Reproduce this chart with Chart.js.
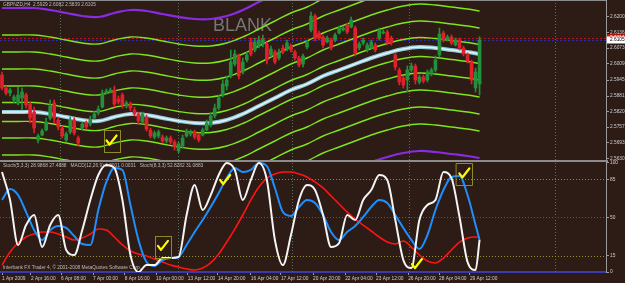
<!DOCTYPE html>
<html>
<head>
<meta charset="utf-8">
<title>GBPNZD,H4</title>
<script src="https://cdn.jsdelivr.net/npm/chart.js@4.4.0/dist/chart.umd.min.js"></script>
<style>
  html, body { margin: 0; padding: 0; background: #2d1b16; }
  #wrap { position: relative; width: 625px; height: 283px; background: #2d1b16; overflow: hidden; }
  canvas { position: absolute; left: 0; }
  #main { top: 0; }
  #osc { top: 160px; }
</style>
</head>
<body>
<div id="wrap">
  <canvas id="main" width="625" height="160"></canvas>
  <canvas id="osc" width="625" height="123"></canvas>
</div>
<script>
'use strict';

// ---- values ----
const tickLabels = ['1 Apr 2009', '2 Apr 16:00', '6 Apr 08:00', '7 Apr 00:00', '8 Apr 16:00', '10 Apr 00:00',
  '13 Apr 12:00', '14 Apr 20:00', '16 Apr 04:00', '17 Apr 12:00', '20 Apr 20:00', '22 Apr 04:00',
  '23 Apr 12:00', '26 Apr 20:00', '28 Apr 04:00', '29 Apr 12:00'];
const tickBars = [0, 7.2, 14.7, 22.7, 30.6, 38.4, 46.3, 53.8, 62, 69.5, 77.5, 85.5, 93.2, 101.2, 108.9, 116.6];
const gridBars = [14.5, 43.8, 72.2, 101.4, 137.8];

const priceTicks = [2.6200, 2.6136, 2.6073, 2.6009, 2.5945, 2.5881, 2.5820, 2.5757, 2.5693, 2.5630];
const oscTicks = [0, 15, 50, 85, 100];
const oscLevels = [15, 50, 85];

const openPrices = [
  2.5965, 2.5913, 2.5893, 2.5865, 2.5853, 2.5873, 2.5885, 2.5849, 2.5817, 2.5705,
  2.5725, 2.5745, 2.5793, 2.5853, 2.5785, 2.5753, 2.5705, 2.5737, 2.5785, 2.5713,
  2.5753, 2.5773, 2.5769, 2.5793, 2.5813, 2.5837, 2.5893, 2.5897, 2.5905, 2.5869,
  2.5885, 2.5841, 2.5849, 2.5825, 2.5809, 2.5777, 2.5797, 2.5745, 2.5717, 2.5721,
  2.5717, 2.5701, 2.5713, 2.5697, 2.5661, 2.5681, 2.5721, 2.5729, 2.5737, 2.5725,
  2.5725, 2.5745, 2.5765, 2.5801, 2.5833, 2.5885, 2.5921, 2.5961, 2.6009, 2.6041,
  2.5977, 2.6025, 2.6097, 2.6065, 2.6081, 2.6089, 2.6089, 2.6045, 2.6057, 2.6033,
  2.6073, 2.6069, 2.6081, 2.6057, 2.6033, 2.6009, 2.6077, 2.6145, 2.6201, 2.6133,
  2.6117, 2.6097, 2.6105, 2.6105, 2.6133, 2.6145, 2.6165, 2.6157, 2.6153, 2.6073,
  2.6093, 2.6065, 2.6073, 2.6085, 2.6113, 2.6133, 2.6137, 2.6113, 2.6045, 2.5985,
  2.5953, 2.5945, 2.5985, 2.6001, 2.5937, 2.5957, 2.5945, 2.5969, 2.5985, 2.6045,
  2.6133, 2.6105, 2.6117, 2.6085, 2.6105, 2.6073, 2.6045, 2.6017, 2.5913, 2.5929
];
const highPrices = [
  2.5977, 2.5921, 2.5913, 2.5885, 2.5917, 2.5913, 2.5893, 2.5857, 2.5837, 2.5729,
  2.5749, 2.5793, 2.5865, 2.5865, 2.5793, 2.5761, 2.5737, 2.5797, 2.5793, 2.5721,
  2.5777, 2.5781, 2.5801, 2.5821, 2.5841, 2.5905, 2.5909, 2.5913, 2.5921, 2.5881,
  2.5893, 2.5861, 2.5857, 2.5837, 2.5817, 2.5817, 2.5805, 2.5753, 2.5741, 2.5745,
  2.5725, 2.5721, 2.5721, 2.5705, 2.5697, 2.5725, 2.5749, 2.5745, 2.5745, 2.5733,
  2.5753, 2.5785, 2.5813, 2.5849, 2.5885, 2.5945, 2.5961, 2.6065, 2.6065, 2.6049,
  2.6033, 2.6057, 2.6113, 2.6113, 2.6121, 2.6125, 2.6097, 2.6081, 2.6065, 2.6069,
  2.6085, 2.6105, 2.6089, 2.6065, 2.6041, 2.6049, 2.6105, 2.6217, 2.6209, 2.6141,
  2.6125, 2.6121, 2.6113, 2.6133, 2.6161, 2.6161, 2.6173, 2.6197, 2.6161, 2.6097,
  2.6113, 2.6093, 2.6105, 2.6093, 2.6153, 2.6145, 2.6145, 2.6121, 2.6053, 2.5993,
  2.5961, 2.6001, 2.6013, 2.6009, 2.5965, 2.5965, 2.5985, 2.5993, 2.6041, 2.6153,
  2.6141, 2.6125, 2.6125, 2.6113, 2.6113, 2.6081, 2.6053, 2.6025, 2.5993, 2.6118
];
const lowPrices = [
  2.5905, 2.5885, 2.5881, 2.5853, 2.5845, 2.5825, 2.5833, 2.5773, 2.5733, 2.5693,
  2.5721, 2.5741, 2.5785, 2.5773, 2.5745, 2.5713, 2.5697, 2.5729, 2.5725, 2.5681,
  2.5745, 2.5749, 2.5761, 2.5789, 2.5805, 2.5833, 2.5889, 2.5893, 2.5837, 2.5849,
  2.5833, 2.5833, 2.5821, 2.5801, 2.5769, 2.5769, 2.5741, 2.5713, 2.5709, 2.5713,
  2.5693, 2.5693, 2.5689, 2.5665, 2.5653, 2.5673, 2.5717, 2.5721, 2.5709, 2.5697,
  2.5721, 2.5741, 2.5757, 2.5793, 2.5825, 2.5877, 2.5905, 2.5953, 2.6001, 2.5949,
  2.5969, 2.6017, 2.6041, 2.6057, 2.6073, 2.6077, 2.6009, 2.6037, 2.6009, 2.6025,
  2.6049, 2.6061, 2.6057, 2.6025, 2.5997, 2.5997, 2.6069, 2.6137, 2.6101, 2.6105,
  2.6073, 2.6093, 2.6065, 2.6097, 2.6129, 2.6141, 2.6129, 2.6153, 2.6041, 2.6065,
  2.6085, 2.6057, 2.6069, 2.6057, 2.6105, 2.6129, 2.6085, 2.6085, 2.5985, 2.5925,
  2.5913, 2.5897, 2.5977, 2.5929, 2.5929, 2.5933, 2.5937, 2.5961, 2.5977, 2.6037,
  2.6097, 2.6101, 2.6085, 2.6081, 2.6065, 2.6041, 2.6013, 2.5929, 2.5897, 2.5885
];
const closePrices = [
  2.5913, 2.5893, 2.5905, 2.5877, 2.5885, 2.5897, 2.5845, 2.5793, 2.5753, 2.5721,
  2.5741, 2.5777, 2.5841, 2.5793, 2.5757, 2.5721, 2.5729, 2.5785, 2.5733, 2.5693,
  2.5769, 2.5757, 2.5789, 2.5809, 2.5829, 2.5893, 2.5901, 2.5905, 2.5849, 2.5857,
  2.5845, 2.5853, 2.5833, 2.5809, 2.5781, 2.5809, 2.5749, 2.5721, 2.5733, 2.5737,
  2.5701, 2.5713, 2.5697, 2.5677, 2.5689, 2.5713, 2.5741, 2.5737, 2.5717, 2.5705,
  2.5745, 2.5773, 2.5801, 2.5833, 2.5873, 2.5929, 2.5945, 2.6017, 2.6049, 2.5961,
  2.6017, 2.6045, 2.6049, 2.6097, 2.6105, 2.6109, 2.6025, 2.6069, 2.6017, 2.6057,
  2.6057, 2.6093, 2.6065, 2.6033, 2.6005, 2.6041, 2.6097, 2.6201, 2.6113, 2.6113,
  2.6085, 2.6113, 2.6073, 2.6125, 2.6153, 2.6153, 2.6137, 2.6185, 2.6053, 2.6089,
  2.6105, 2.6085, 2.6097, 2.6065, 2.6145, 2.6137, 2.6093, 2.6093, 2.5997, 2.5937,
  2.5925, 2.5985, 2.6001, 2.5945, 2.5957, 2.5941, 2.5977, 2.5985, 2.6025, 2.6129,
  2.6105, 2.6117, 2.6093, 2.6105, 2.6073, 2.6049, 2.6021, 2.5945, 2.5977, 2.6105
];

// moving average (centre of the envelopes)
const maBars = [0, 4, 8, 12, 16, 20, 24, 28, 32, 36, 40, 44, 48, 52, 56, 60, 64, 68, 72, 76,
  80, 84, 88, 92, 96, 100, 104, 108, 112, 116, 119];
const maPrices = [2.5817, 2.5817, 2.5817, 2.5809, 2.5797, 2.5785, 2.5781, 2.5797, 2.5809, 2.5805,
  2.5793, 2.5781, 2.5773, 2.5773, 2.5785, 2.5809, 2.5841, 2.5873, 2.5905, 2.5929,
  2.5961, 2.5985, 2.6009, 2.6033, 2.6053, 2.6069, 2.6077, 2.6073, 2.6065, 2.6057, 2.6049];
const envelopeOffsets = [0.0038, 0.0104, 0.0172, 0.0240, 0.0308];
const outerOffset = 0.0416;

const bidPrice = 2.6105;
const askPrice = 2.6114;

// stochastic panel
const oscBars = [0, 2, 4, 6, 8, 10, 12, 14, 16, 18, 20, 22, 24, 26, 28, 30, 32, 34, 36, 38,
  40, 42, 44, 46, 48, 50, 52, 54, 56, 58, 60, 62, 64, 66, 68, 70, 72, 74, 76, 78,
  80, 82, 84, 86, 88, 90, 92, 94, 96, 98, 100, 102, 104, 106, 108, 110, 112, 114, 116, 118, 119];
const stochMain = [91.7, 66.1, 24.8, 43.1, 52.3, 22.9, 43.1, 52.3, 20.2, 15.6,
  38.5, 66.1, 89.0, 98.2, 95.4, 66.1, 15.6, 0, 6.4, 6.4,
  12.8, 12.8, 13.8, 52.3, 79.8, 56.9, 70.6, 89.0, 100, 93.6,
  66.1, 84.4, 100, 84.4, 29.4, 6.4, 33.9, 66.1, 79.8, 75.2,
  52.3, 22.9, 26.6, 52.3, 47.7, 66.1, 75.2, 89.0, 84.4, 47.7,
  11.0, 3.7, 47.7, 61.5, 66.1, 91.7, 86.2, 50.5, 9.2, 1.8, 29.4];
const stochSignal = [66.1, 76.1, 70.6, 55.0, 38.5, 29.4, 38.5, 42.2, 40.4, 33.0,
  25.7, 24.8, 56.9, 82.6, 95.4, 93.6, 61.5, 29.4, 9.2, 5.5,
  11.0, 12.8, 13.8, 24.8, 36.7, 47.7, 59.6, 72.5, 86.2, 95.4,
  91.7, 93.6, 100, 97.2, 77.1, 55.0, 51.4, 59.6, 66.1, 63.3,
  52.3, 36.7, 29.4, 36.7, 42.2, 50.5, 59.6, 66.1, 63.3, 52.3,
  40.4, 29.4, 21.1, 33.9, 56.9, 75.2, 87.2, 88.1, 70.6, 43.1, 29.4];
const stochSlow = [6.4, 18.3, 26.6, 32.1, 34.9, 36.7, 36.7, 34.9, 32.1, 29.4,
  31.2, 34.9, 39.4, 38.5, 32.1, 24.8, 19.3, 16.5, 14.7, 11.9,
  9.2, 6.4, 4.6, 2.8, 1.8, 3.7, 8.3, 16.5, 27.5, 39.4,
  52.3, 66.1, 78.0, 86.2, 89.9, 91.7, 91.7, 89.9, 87.2, 82.6,
  77.1, 69.7, 62.4, 55.0, 48.6, 43.1, 37.6, 32.1, 27.5, 25.7,
  28.4, 22.9, 15.6, 10.1, 8.3, 12.8, 20.2, 27.5, 31.2, 32.1, 32.1];

const checkMarks = [
  { panel: 'main', bar: 27.3, value: 2.5703, boxed: true },
  { panel: 'osc', bar: 40.1, value: 23.9, boxed: true },
  { panel: 'osc', bar: 55.6, value: 84.4, boxed: false },
  { panel: 'osc', bar: 103.4, value: 7.3, boxed: false },
  { panel: 'osc', bar: 115.2, value: 90.4, boxed: true }
];

// ---- styles ----
const BULL = '#23903c';
const BEAR = '#e0202a';
const ENVELOPE = '#7ee41e';
const OUTER = '#8a2be2';
const GRID = '#55705c';
const AXIS = '#9a9a9a';
const LABEL = '#cfcfcf';
const SMALL_FONT = '4.8px "Liberation Sans"';

Chart.defaults.font.family = '"Liberation Sans", Arial, sans-serif';
Chart.defaults.color = LABEL;

const barIndex = openPrices.map((_, i) => i);
const candleColors = barIndex.map(i => (closePrices[i] >= openPrices[i] ? BULL : BEAR));

const lineSet = (points, color, width, order) => ({
  type: 'line',
  data: points,
  borderColor: color,
  borderWidth: width,
  pointRadius: 0,
  tension: 0.4,
  fill: false,
  order: order
});

const mainSets = [
  {
    type: 'bar',
    data: barIndex.map(i => ({ x: i, y: [lowPrices[i], highPrices[i]] })),
    backgroundColor: candleColors,
    barThickness: 1,
    grouped: false,
    order: 1
  },
  {
    type: 'bar',
    data: barIndex.map(i => ({ x: i, y: [openPrices[i], closePrices[i]] })),
    backgroundColor: candleColors,
    barThickness: 3,
    minBarLength: 1,
    grouped: false,
    order: 0
  }
];

envelopeOffsets.forEach(off => {
  [1, -1].forEach(sign => {
    mainSets.push(lineSet(maBars.map((b, k) => ({ x: b, y: maPrices[k] + sign * off })), ENVELOPE, 1.4, 4));
  });
});
[1, -1].forEach(sign => {
  mainSets.push(lineSet(maBars.map((b, k) => ({ x: b, y: maPrices[k] + sign * outerOffset })), OUTER, 2.2, 4));
});
mainSets.push(lineSet(maBars.map((b, k) => ({ x: b, y: maPrices[k] })), '#8fc9d8', 4, 3));
mainSets.push(lineSet(maBars.map((b, k) => ({ x: b, y: maPrices[k] })), '#e2f5fa', 1.5, 2));

function drawCheck(ctx, cx, cy, boxed) {
  if (boxed) {
    ctx.strokeStyle = '#8c8c26';
    ctx.lineWidth = 1;
    ctx.strokeRect(Math.round(cx - 8) + 0.5, Math.round(cy - 10) + 0.5, 16, 22);
  }
  ctx.strokeStyle = '#ffff00';
  ctx.lineWidth = 2.2;
  ctx.lineCap = 'round';
  ctx.lineJoin = 'round';
  ctx.beginPath();
  ctx.moveTo(cx - 5, cy);
  ctx.lineTo(cx - 2, cy + 4);
  ctx.lineTo(cx + 5, cy - 5);
  ctx.stroke();
}

function drawGridBars(ctx, chart) {
  const a = chart.chartArea;
  ctx.lineWidth = 1;
  ctx.setLineDash([1, 2]);
  ctx.strokeStyle = GRID;
  gridBars.forEach(b => {
    const px = Math.round(chart.scales.x.getPixelForValue(b)) + 0.5;
    ctx.beginPath();
    ctx.moveTo(px, a.top);
    ctx.lineTo(px, a.bottom);
    ctx.stroke();
  });
  ctx.setLineDash([]);
}

const mainDecor = {
  id: 'mainDecor',
  beforeDatasetsDraw(chart) {
    const { ctx, chartArea: a } = chart;
    const y = chart.scales.y;
    ctx.save();
    drawGridBars(ctx, chart);
    ctx.setLineDash([2, 2]);
    [[askPrice, '#b81414'], [bidPrice, '#2a2ab8']].forEach(([p, c]) => {
      const py = Math.round(y.getPixelForValue(p)) + 0.5;
      ctx.strokeStyle = c;
      ctx.beginPath();
      ctx.moveTo(a.left, py);
      ctx.lineTo(a.right, py);
      ctx.stroke();
    });
    ctx.setLineDash([]);
    ctx.fillStyle = '#767676';
    ctx.font = '18px "Liberation Sans"';
    ctx.textBaseline = 'alphabetic';
    ctx.fillText('BLANK', 213, 31);
    ctx.restore();
  },
  afterDraw(chart) {
    const { ctx, chartArea: a } = chart;
    const x = chart.scales.x;
    const y = chart.scales.y;
    ctx.save();
    ctx.fillStyle = '#8c8c8c';
    ctx.fillRect(0, 0, a.right, 1);

    ctx.font = SMALL_FONT;
    ctx.textBaseline = 'middle';
    ctx.fillStyle = '#bdbdbd';
    ctx.fillText('GBPNZD,H4  2.5929 2.6082 2.5839 2.6105', 3, 5);

    // ask / bid price boxes on the axis
    const askY = y.getPixelForValue(askPrice);
    ctx.fillStyle = '#e01010';
    ctx.fillRect(a.right + 1, askY - 3.5, 625 - a.right, 7);
    ctx.fillStyle = '#ffffff';
    ctx.fillText(askPrice.toFixed(4), a.right + 4, askY);
    const bidY = y.getPixelForValue(bidPrice);
    ctx.fillStyle = '#ffffff';
    ctx.fillRect(a.right + 1, bidY - 3.5, 625 - a.right, 7);
    ctx.fillStyle = '#000000';
    ctx.fillText(bidPrice.toFixed(4), a.right + 4, bidY);

    checkMarks.filter(c => c.panel === 'main').forEach(c => {
      drawCheck(ctx, x.getPixelForValue(c.bar), y.getPixelForValue(c.value), c.boxed);
    });
    ctx.restore();
  }
};

const oscDecor = {
  id: 'oscDecor',
  beforeDatasetsDraw(chart) {
    const { ctx, chartArea: a } = chart;
    const y = chart.scales.y;
    ctx.save();
    drawGridBars(ctx, chart);
    ctx.setLineDash([1, 2]);
    oscLevels.forEach(v => {
      const py = Math.round(y.getPixelForValue(v)) + 0.5;
      ctx.strokeStyle = v === 50 ? '#4d6a2a' : '#9a8a2a';
      ctx.beginPath();
      ctx.moveTo(a.left, py);
      ctx.lineTo(a.right, py);
      ctx.stroke();
    });
    ctx.setLineDash([]);
    ctx.font = SMALL_FONT;
    ctx.textBaseline = 'middle';
    ctx.fillStyle = '#bdbdbd';
    ctx.fillText('Stoch(5,3,3) 28.9868 27.4888   MACD(12,26,9) 0.0001 0.0031   Stoch(8,3,3) 52.8282 31.0883', 3, 5.5);
    ctx.fillText('Interbank FX Trader 4, \u00a9 2001-2008 MetaQuotes Software Corp.', 3, a.bottom - 4);
    ctx.restore();
  },
  afterDraw(chart) {
    const { ctx, chartArea: a } = chart;
    const x = chart.scales.x;
    const y = chart.scales.y;
    ctx.save();
    ctx.fillStyle = '#8c8c8c';
    ctx.fillRect(0, 0, a.right + 2, 2);
    checkMarks.filter(c => c.panel === 'osc').forEach(c => {
      drawCheck(ctx, x.getPixelForValue(c.bar), y.getPixelForValue(c.value), c.boxed);
    });
    ctx.restore();
  }
};

const fixedRightAxis = (s) => {
  s.width = 19;
  s.paddingTop = 0;
  s.paddingBottom = 0;
};

new Chart(document.getElementById('main'), {
  type: 'bar',
  data: { datasets: mainSets },
  options: {
    responsive: false,
    animation: false,
    events: [],
    layout: { padding: 0 },
    plugins: { legend: { display: false }, tooltip: { enabled: false } },
    scales: {
      x: { type: 'linear', min: -0.5, max: 150.5, offset: false, display: false, grid: { offset: false } },
      y: {
        position: 'right',
        min: 2.5625,
        max: 2.6265,
        beginAtZero: false,
        afterBuildTicks: s => { s.ticks = priceTicks.map(v => ({ value: v })); },
        afterFit: fixedRightAxis,
        grid: { drawOnChartArea: false, drawTicks: true, tickLength: 3, color: AXIS },
        border: { display: true, color: AXIS, width: 1 },
        ticks: {
          autoSkip: false,
          padding: 1,
          color: LABEL,
          font: { size: 4.8 },
          callback: v => v.toFixed(4)
        }
      }
    }
  },
  plugins: [mainDecor]
});

new Chart(document.getElementById('osc'), {
  type: 'line',
  data: {
    datasets: [
      { data: oscBars.map((b, k) => ({ x: b, y: stochSlow[k] })), borderColor: '#ff1414', borderWidth: 1.6, order: 2 },
      { data: oscBars.map((b, k) => ({ x: b, y: stochSignal[k] })), borderColor: '#1e8fff', borderWidth: 2, order: 1 },
      { data: oscBars.map((b, k) => ({ x: b, y: stochMain[k] })), borderColor: '#f4f4f4', borderWidth: 2, order: 0 }
    ].map(d => Object.assign(d, { pointRadius: 0, cubicInterpolationMode: 'monotone', fill: false }))
  },
  options: {
    responsive: false,
    animation: false,
    events: [],
    layout: { padding: 0 },
    plugins: { legend: { display: false }, tooltip: { enabled: false } },
    scales: {
      x: {
        type: 'linear',
        min: -0.5,
        max: 150.5,
        afterBuildTicks: s => { s.ticks = tickBars.map(v => ({ value: v })); },
        afterFit: s => { s.height = 11; s.paddingLeft = 0; s.paddingRight = 0; },
        grid: { drawOnChartArea: false, drawTicks: true, tickLength: 3, color: AXIS },
        border: { display: true, color: '#3a3ab0', width: 2 },
        ticks: {
          autoSkip: false,
          maxRotation: 0,
          align: 'start',
          padding: 1,
          color: LABEL,
          font: { size: 4.8 },
          callback: (v, i) => tickLabels[i]
        }
      },
      y: {
        position: 'right',
        min: 0,
        max: 102.75,
        afterBuildTicks: s => { s.ticks = oscTicks.map(v => ({ value: v })); },
        afterFit: fixedRightAxis,
        grid: { drawOnChartArea: false, drawTicks: true, tickLength: 3, color: AXIS },
        border: { display: true, color: AXIS, width: 1 },
        ticks: {
          autoSkip: false,
          padding: 1,
          color: LABEL,
          font: { size: 4.8 },
          callback: v => String(v)
        }
      }
    }
  },
  plugins: [oscDecor]
});
</script>
</body>
</html>
